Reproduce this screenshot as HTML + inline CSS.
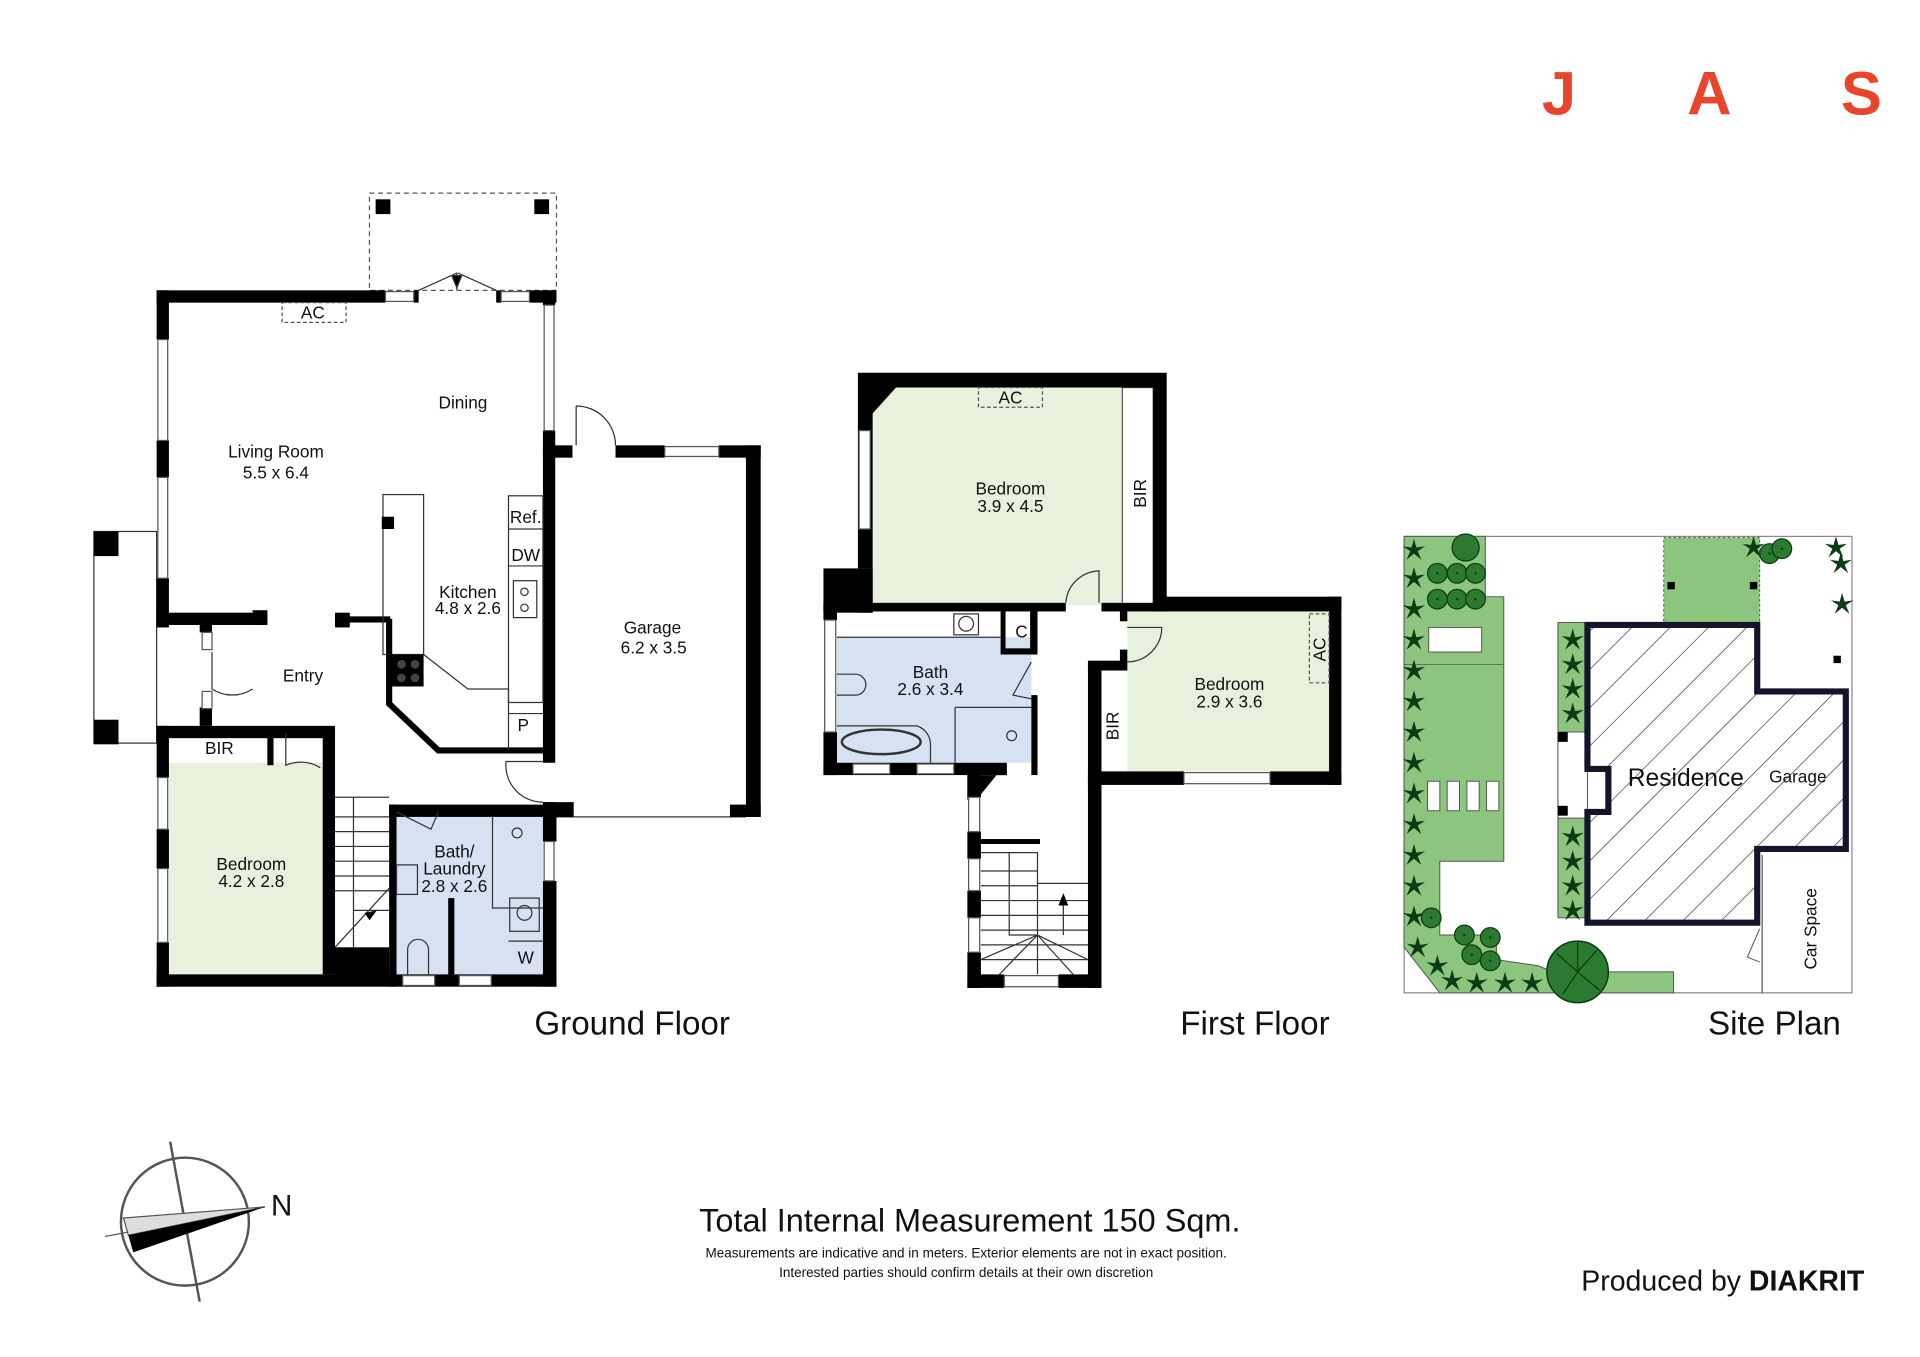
<!DOCTYPE html>
<html><head><meta charset="utf-8"><style>
html,body{margin:0;padding:0;background:#fff;}
svg{display:block;font-family:"Liberation Sans",Arial,sans-serif;}
</style></head><body>
<svg width="1920" height="1357" viewBox="0 0 1560 1103" xmlns="http://www.w3.org/2000/svg">
<defs>
<pattern id="hatch" width="22" height="22" patternUnits="userSpaceOnUse" patternTransform="rotate(45)">
<rect width="22" height="22" fill="#fff"/><line x1="0" y1="0" x2="0" y2="22" stroke="#222" stroke-width="1"/>
</pattern>
<g id="star"><path d="M0,-9 L2,-2 L9,-3 L3,1 L6,8 L0,3 L-6,8 L-3,1 L-9,-3 L-2,-2Z" fill="#0c3a12"/></g>
<g id="bush"><circle r="8" fill="#2b7a30" stroke="#0c3a12" stroke-width="1"/><circle r="1" fill="#0c3a12"/></g>
</defs>
<rect width="1560" height="1103" fill="#fff"/>

<!-- JAS -->
<g fill="#e8452c" font-weight="bold" font-size="50">
<text x="1253" y="93">J</text><text x="1371" y="93">A</text><text x="1496" y="93">S</text>
</g>

<!-- ============ GROUND FLOOR ============ -->
<g>
<rect x="300" y="157" width="152" height="79" fill="none" stroke="#555" stroke-dasharray="4,3" stroke-width="1"/>
<rect x="305" y="162" width="12" height="12" fill="#000"/><rect x="434" y="162" width="12" height="12" fill="#000"/>
<rect x="137" y="620" width="125" height="172" fill="#e8f1dc"/>
<rect x="322" y="664" width="119" height="128" fill="#d6e2f2"/>
<rect x="76" y="432" width="51" height="172" fill="none" stroke="#333" stroke-width="1"/>
<rect x="76" y="432" width="20" height="20" fill="#000"/><rect x="76" y="585" width="20" height="20" fill="#000"/>
<line x1="451" y1="664" x2="606" y2="664" stroke="#333" stroke-width="1"/>
<g fill="#000">
<rect x="127" y="236" width="186" height="10"/><rect x="336" y="236" width="4" height="10"/><rect x="403" y="236" width="4" height="10"/><rect x="430" y="236" width="22" height="10"/>
<rect x="127" y="236" width="10" height="40"/><rect x="127" y="358" width="10" height="30"/><rect x="127" y="470" width="10" height="40"/>
<rect x="127" y="498" width="90" height="10"/><rect x="205" y="496" width="12" height="12"/>
<rect x="272" y="498" width="12" height="12"/><rect x="272" y="501" width="45" height="5"/>
<rect x="162" y="508" width="10" height="6"/><rect x="162" y="575" width="10" height="15"/>
<rect x="441" y="236" width="10" height="12"/><rect x="441" y="350" width="10" height="270"/><rect x="441" y="652" width="10" height="12"/>
<rect x="441" y="362" width="24" height="10"/><rect x="500" y="362" width="40" height="10"/><rect x="584" y="362" width="34" height="10"/>
<rect x="606" y="362" width="12" height="302"/><rect x="593" y="654" width="25" height="10"/>
<rect x="441" y="652" width="25" height="12"/>
<rect x="127" y="590" width="145" height="10"/><rect x="127" y="590" width="10" height="42"/><rect x="127" y="674" width="10" height="32"/><rect x="127" y="766" width="10" height="36"/>
<rect x="127" y="792" width="325" height="10"/>
<rect x="217" y="596" width="5" height="26"/><rect x="262" y="592" width="10" height="200"/>
<rect x="272" y="770" width="44" height="30"/>
<rect x="316" y="654" width="136" height="10"/><rect x="316" y="654" width="6" height="148"/>
<rect x="441" y="654" width="11" height="30"/><rect x="441" y="716" width="11" height="86"/>
<rect x="364" y="730" width="5" height="62"/>
</g>
<g fill="#fff" stroke="#555" stroke-width="1">
<rect x="313" y="237" width="23" height="8"/><rect x="407" y="237" width="23" height="8"/>
<rect x="128" y="276" width="8" height="82"/><rect x="128" y="388" width="8" height="82"/>
<rect x="442" y="248" width="8" height="102"/><rect x="540" y="363" width="44" height="8"/>
<rect x="128" y="632" width="8" height="42"/><rect x="128" y="706" width="8" height="60"/>
<rect x="442" y="684" width="8" height="32"/><rect x="164" y="514" width="8" height="14"/><rect x="164" y="562" width="8" height="14"/>
<rect x="327" y="793" width="26" height="8"/><rect x="373" y="793" width="26" height="8"/>
</g>
<g fill="none" stroke="#333" stroke-width="1">
<path d="M340,236 L371,222 L371,236 M403,236 L372,222"/>
<polygon points="367,224 375,224 371,234" fill="#000"/>
<rect x="229" y="246" width="52" height="16" stroke-dasharray="3,2" stroke="#555"/>
<rect x="311" y="402" width="33" height="130"/>
<path d="M316,503 L316,572 L356,610 L441,610" stroke="#000" stroke-width="5"/>
<path d="M344,532 L380,560 L413,560 M413,560 L413,610"/>
<rect x="413" y="403" width="28" height="168"/>
<line x1="413" y1="430" x2="441" y2="430"/><line x1="413" y1="460" x2="441" y2="460"/><line x1="413" y1="580" x2="441" y2="580"/>
<rect x="417" y="472" width="19" height="30"/><circle cx="426" cy="481" r="3"/><circle cx="426" cy="494" r="3"/>
<path d="M272,648 L316,648 M287,648 L287,770 M272,664 L316,664 M272,676 L316,676 M272,688 L316,688 M272,700 L316,700 M272,712 L316,712 M272,724 L316,724 M287,740 L316,740 M272,770 L316,722"/>
<path d="M172,530 L172,560 A30,30 0 0,0 205,560"/>
<path d="M232,596 L232,622 A30,30 0 0,1 260,624"/>
<path d="M468,330 L468,362 M468,330 A32,32 0 0,1 500,362"/>
<path d="M441,619 L411,619 A30,30 0 0,0 441,652"/>
<path d="M322,660 L350,674 L356,660"/>
<path d="M400,664 L400,738 L441,738"/>
<circle cx="420" cy="677" r="4"/><rect x="322" y="703" width="17" height="24"/>
<rect x="414" y="730" width="24" height="27"/><circle cx="426" cy="742" r="6"/>
<line x1="413" y1="765" x2="441" y2="765"/><path d="M331,792 L331,772 A8,8 0 0,1 348,772 L348,792"/>
</g>
<g fill="#000"><rect x="310" y="420" width="10" height="10"/><rect x="318" y="532" width="26" height="26"/></g>
<g fill="#444"><circle cx="326" cy="540" r="3.5"/><circle cx="337" cy="540" r="3.5"/><circle cx="326" cy="551" r="3.5"/><circle cx="337" cy="551" r="3.5"/></g>
<polygon points="296,742 306,740 300,748" fill="#000"/>
<g font-size="14" fill="#111" text-anchor="middle">
<text x="254" y="259">AC</text>
<text x="376" y="332">Dining</text>
<text x="224" y="372">Living Room</text><text x="224" y="389">5.5 x 6.4</text>
<text x="427" y="425">Ref.</text><text x="427" y="456">DW</text>
<text x="380" y="486">Kitchen</text><text x="380" y="499">4.8 x 2.6</text>
<text x="530" y="515">Garage</text><text x="531" y="531">6.2 x 3.5</text>
<text x="246" y="554">Entry</text><text x="425" y="594">P</text>
<text x="178" y="613">BIR</text>
<text x="204" y="707">Bedroom</text><text x="204" y="721">4.2 x 2.8</text>
<text x="369" y="697">Bath/</text><text x="369" y="711">Laundry</text><text x="369" y="725">2.8 x 2.6</text>
<text x="427" y="783">W</text>
</g>
<text x="434" y="841" font-size="27" fill="#111">Ground Floor</text>
</g>

<!-- ============ FIRST FLOOR ============ -->
<g>
<path d="M728,315 L937,315 L937,492 L709,492 L709,336 Z" fill="#e8f1dc"/>
<rect x="912" y="315" width="25" height="177" fill="#fff" stroke="#555" stroke-width="1"/>
<rect x="916" y="497" width="164" height="130" fill="#e8f1dc"/>
<rect x="680" y="518" width="158" height="102" fill="#d6e2f2"/>
<g fill="#000">
<path d="M697,303 L948,303 L948,497 L937,497 L937,315 L728,315 L709,336 L709,462 L697,462 Z"/>
<rect x="697" y="462" width="12" height="36"/><rect x="669" y="462" width="40" height="36"/>
<rect x="669" y="490" width="197" height="7"/><rect x="895" y="490" width="53" height="7"/>
<rect x="669" y="490" width="11" height="14"/><rect x="669" y="595" width="11" height="35"/>
<rect x="669" y="620" width="149" height="10"/>
<path d="M786,630 L818,630 L818,620 L795,648 L795,650 L786,650 Z"/>
<rect x="786" y="630" width="11" height="18"/><rect x="786" y="676" width="11" height="22"/><rect x="786" y="724" width="11" height="22"/><rect x="786" y="774" width="11" height="29"/>
<rect x="786" y="792" width="30" height="11"/><rect x="860" y="792" width="35" height="11"/>
<rect x="884" y="540" width="11" height="263"/><rect x="884" y="537" width="32" height="8"/>
<rect x="940" y="485" width="150" height="12"/><rect x="1080" y="485" width="10" height="153"/>
<rect x="884" y="627" width="78" height="11"/><rect x="1032" y="627" width="58" height="11"/>
<rect x="837" y="497" width="6" height="35"/><rect x="815" y="527" width="28" height="5"/><rect x="813" y="497" width="4" height="35"/>
<rect x="838" y="565" width="5" height="65"/><rect x="910" y="497" width="6" height="8"/><rect x="910" y="528" width="6" height="10"/>
<rect x="795" y="682" width="50" height="4"/>
</g>
<g fill="#fff" stroke="#555" stroke-width="1">
<rect x="698" y="350" width="9" height="80"/><rect x="670" y="504" width="9" height="91"/>
<rect x="693" y="621" width="30" height="8"/><rect x="745" y="621" width="30" height="8"/>
<rect x="787" y="648" width="9" height="28"/><rect x="787" y="698" width="9" height="26"/><rect x="787" y="746" width="9" height="28"/>
<rect x="816" y="793" width="44" height="9"/><rect x="962" y="628" width="70" height="9"/>
</g>
<g fill="none" stroke="#333" stroke-width="1">
<rect x="795" y="315" width="52" height="16" stroke-dasharray="3,2" stroke="#555"/>
<rect x="1064" y="499" width="16" height="56" stroke-dasharray="3,2" stroke="#555"/>
<path d="M866,490 A28,28 0 0,1 893,464 L893,490"/>
<path d="M916,538 A28,28 0 0,0 944,510 L916,510"/>
<line x1="680" y1="518" x2="813" y2="518"/>
<rect x="775" y="499" width="20" height="17"/><circle cx="785" cy="507" r="6"/>
<path d="M680,548 L695,548 A8,8 0 0,1 695,565 L680,565"/>
<path d="M680,590 L745,590 A16,16 0 0,1 756,605 L756,620"/>
<ellipse cx="716" cy="603" rx="32" ry="10" stroke-width="2"/>
<path d="M776,575 L838,575 M776,575 L776,620"/>
<circle cx="822" cy="598" r="4"/><path d="M838,538 L823,565 L838,568"/>
<path d="M797,693 L843,693 L843,760 L820,760 L820,693 M797,708 L843,708 M797,720 L843,720 M797,732 L884,732 M797,744 L884,744 M843,718 L884,718 M797,756 L884,756 M797,768 L884,768 M797,780 L884,780 M843,760 L797,780 M843,760 L812,792 M843,760 L843,792 M843,760 L872,792 M843,760 L884,780 M864,735 L864,760"/>
</g>
<polygon points="860,736 868,736 864,726" fill="#000"/>
<g font-size="14" fill="#111" text-anchor="middle">
<text x="821" y="328">AC</text>
<text x="821" y="402">Bedroom</text><text x="821" y="416">3.9 x 4.5</text>
<text x="830" y="518">C</text>
<text x="756" y="551">Bath</text><text x="756" y="565">2.6 x 3.4</text>
<text x="999" y="561">Bedroom</text><text x="999" y="575">2.9 x 3.6</text>
<text transform="translate(931,401) rotate(-90)">BIR</text>
<text transform="translate(909,590) rotate(-90)">BIR</text>
<text transform="translate(1077,528) rotate(-90)">AC</text>
</g>
<text x="959" y="841" font-size="27" fill="#111">First Floor</text>
</g>

<!-- ============ SITE PLAN ============ -->
<g>
<rect x="1141" y="436" width="364" height="371" fill="#fff" stroke="#888" stroke-width="1"/>
<path d="M1141,436 L1207,436 L1207,485 L1222,485 L1222,700 L1170,700 L1170,760 L1216,760 L1216,780 L1250,785 L1262,790 L1360,790 L1360,807 L1170,807 L1141,770 Z" fill="#8cc57e" stroke="#555" stroke-width="0.8"/>
<rect x="1161" y="510" width="43" height="20" fill="#fff" stroke="#555" stroke-width="0.8"/>
<line x1="1141" y1="540" x2="1222" y2="540" stroke="#555" stroke-width="0.6"/>
<g fill="#fff" stroke="#555" stroke-width="0.8">
<rect x="1160" y="635" width="10" height="24"/><rect x="1176" y="635" width="10" height="24"/><rect x="1192" y="635" width="10" height="24"/><rect x="1208" y="635" width="10" height="24"/>
</g>
<rect x="1352" y="437" width="78" height="70" fill="#8cc57e" stroke="#555" stroke-width="0.8" stroke-dasharray="2,2"/>
<rect x="1266" y="506" width="24" height="240" fill="#8cc57e" stroke="#555" stroke-width="0.8"/>
<rect x="1266" y="595" width="24" height="70" fill="#fff" stroke="#555" stroke-width="0.8"/>
<rect x="1266" y="595" width="8" height="8" fill="#000"/><rect x="1266" y="655" width="8" height="8" fill="#000"/>
<path d="M1290,508 L1428,508 L1428,562 L1500,562 L1500,690 L1428,690 L1428,750 L1290,750 L1290,660 L1307,660 L1307,625 L1290,625 Z" fill="url(#hatch)" stroke="#14142a" stroke-width="5"/>
<line x1="1432" y1="695" x2="1432" y2="807" stroke="#555" stroke-width="1"/>
<path d="M1430,755 L1420,778 L1430,782" fill="none" stroke="#555" stroke-width="0.8"/>
<rect x="1355" y="473" width="6" height="6" fill="#000"/><rect x="1422" y="473" width="6" height="6" fill="#000"/><rect x="1490" y="533" width="6" height="6" fill="#000"/>
<g>
<use href="#star" x="1149" y="447"/><use href="#star" x="1149" y="470"/><use href="#star" x="1149" y="495"/><use href="#star" x="1149" y="520"/><use href="#star" x="1149" y="545"/><use href="#star" x="1149" y="570"/><use href="#star" x="1149" y="595"/><use href="#star" x="1149" y="620"/><use href="#star" x="1149" y="645"/><use href="#star" x="1149" y="670"/><use href="#star" x="1149" y="695"/><use href="#star" x="1149" y="720"/><use href="#star" x="1149" y="745"/><use href="#star" x="1152" y="770"/>
<use href="#star" x="1168" y="785"/><use href="#star" x="1180" y="797"/><use href="#star" x="1200" y="799"/><use href="#star" x="1223" y="799"/><use href="#star" x="1245" y="799"/>
<use href="#star" x="1278" y="520"/><use href="#star" x="1278" y="540"/><use href="#star" x="1278" y="560"/><use href="#star" x="1278" y="580"/>
<use href="#star" x="1278" y="680"/><use href="#star" x="1278" y="700"/><use href="#star" x="1278" y="720"/><use href="#star" x="1278" y="740"/>
<use href="#star" x="1425" y="445"/><use href="#star" x="1492" y="445"/><use href="#star" x="1496" y="458"/><use href="#star" x="1497" y="491"/>
</g>
<g>
<circle cx="1191" cy="445" r="11" fill="#2b7a30" stroke="#0c3a12"/>
<use href="#bush" x="1168" y="466"/><use href="#bush" x="1184" y="466"/><use href="#bush" x="1199" y="466"/>
<use href="#bush" x="1168" y="487"/><use href="#bush" x="1184" y="487"/><use href="#bush" x="1199" y="487"/>
<use href="#bush" x="1163" y="746"/><use href="#bush" x="1190" y="760"/><use href="#bush" x="1211" y="762"/><use href="#bush" x="1196" y="776"/><use href="#bush" x="1211" y="781"/>
<use href="#bush" x="1438" y="450"/><use href="#bush" x="1448" y="446"/>
<circle cx="1282" cy="790" r="25" fill="#2b7a30" stroke="#0c3a12" stroke-width="1.2"/>
<path d="M1282,790 L1265,775 M1282,790 L1298,772 M1282,790 L1270,808 M1282,790 L1300,805 M1282,790 L1282,766" stroke="#0c3a12" fill="none"/>
</g>
<text x="1370" y="639" font-size="20" fill="#111" text-anchor="middle">Residence</text>
<text x="1461" y="636" font-size="14" fill="#111" text-anchor="middle">Garage</text>
<text transform="translate(1476,755) rotate(-90)" font-size="14" fill="#111" text-anchor="middle">Car Space</text>
<text x="1388" y="841" font-size="27" fill="#111">Site Plan</text>
</g>

<!-- compass -->
<g>
<circle cx="150" cy="993" r="52" fill="none" stroke="#555" stroke-width="2"/>
<line x1="138" y1="928" x2="162" y2="1058" stroke="#555" stroke-width="2"/>
<line x1="85" y1="1005" x2="215" y2="981" stroke="#555" stroke-width="1"/>
<polygon points="215,981 100,990 104,1004" fill="#ddd" stroke="#555"/>
<polygon points="215,981 104,1004 108,1018" fill="#000"/>
<text x="220" y="988" font-size="24" fill="#111">N</text>
</g>

<text x="788" y="1001" font-size="26.5" fill="#111" text-anchor="middle" textLength="440" lengthAdjust="spacingAndGlyphs">Total Internal Measurement 150 Sqm.</text>
<text x="785" y="1022" font-size="11" fill="#111" text-anchor="middle">Measurements are indicative and in meters. Exterior elements are not in exact position.</text>
<text x="785" y="1038" font-size="11" fill="#111" text-anchor="middle">Interested parties should confirm details at their own discretion</text>
<text x="1285" y="1049" font-size="23" fill="#111" textLength="230" lengthAdjust="spacingAndGlyphs">Produced by <tspan font-weight="bold">DIAKRIT</tspan></text>
</svg>
</body></html>
